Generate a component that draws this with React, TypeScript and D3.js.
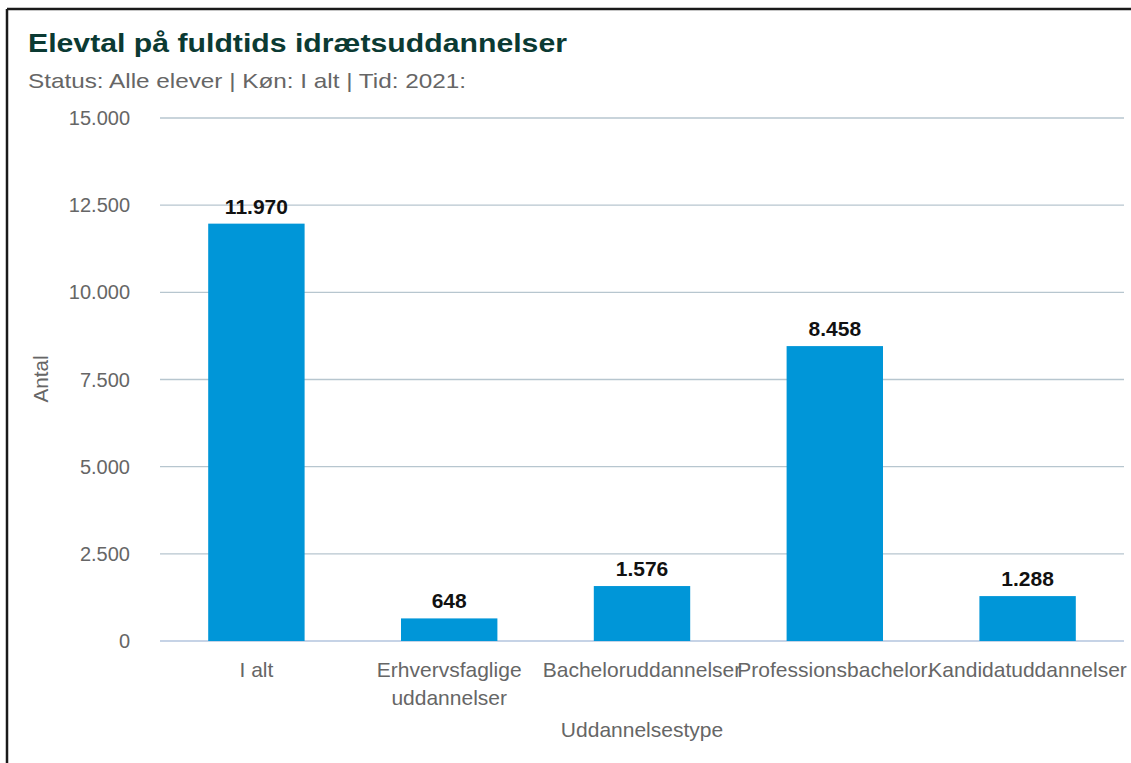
import React from 'react';
import { scaleBand, scaleLinear, formatLocale } from 'd3';

const categories = ['I alt', 'Erhvervsfaglige uddannelser', 'Bacheloruddannelser', 'Professionsbachelor.', 'Kandidatuddannelser'];
const categoryLines = [['I alt'], ['Erhvervsfaglige', 'uddannelser'], ['Bacheloruddannelser'], ['Professionsbachelor.'], ['Kandidatuddannelser']];
const values = [11970, 648, 1576, 8458, 1288];
const yTicks = [0, 2500, 5000, 7500, 10000, 12500, 15000];

const title = 'Elevtal på fuldtids idrætsuddannelser';
const subtitle = 'Status: Alle elever | Køn: I alt | Tid: 2021:';
const yTitle = 'Antal';
const xTitle = 'Uddannelsestype';

const W = 1131;
const H = 763;
const font = '"Liberation Sans", Arial, sans-serif';

const da = formatLocale({ decimal: ',', thousands: '.', grouping: [3], currency: ['', ' kr.'] });
const fmt = da.format(',');

const App = () => {
    const margin = { top: 118, right: 7, bottom: 122, left: 160 };
    const innerWidth = W - margin.left - margin.right;
    const innerHeight = H - margin.top - margin.bottom;

    const xScale = scaleBand()
        .domain(categories)
        .range([0, innerWidth])
        .paddingInner(0.5)
        .paddingOuter(0.25);

    const yScale = scaleLinear()
        .domain([0, 15000])
        .range([innerHeight, 0]);

    return (
        <svg width={W} height={H} style={{ position: 'absolute', left: 0, top: 0, fontFamily: font }}>
            <rect x={0} y={0} width={W} height={H} fill="white" />
            {/* frame */}
            <line x1={7} x2={W} y1={9} y2={9} stroke="#1a1a1a" strokeWidth={2.5} />
            <line x1={7} x2={7} y1={9} y2={H} stroke="#1a1a1a" strokeWidth={2.5} />

            <text x={28} y={52} fontSize={26} fontWeight="bold" fill="#0b3a33" textLength={539} lengthAdjust="spacingAndGlyphs">{title}</text>
            <text x={28} y={88} fontSize={21} fill="#666666" textLength={438} lengthAdjust="spacingAndGlyphs">{subtitle}</text>

            <g transform={`translate(${margin.left}, ${margin.top})`}>
                {yTicks.map(tickVal => (
                    <g key={tickVal} transform={`translate(0, ${yScale(tickVal)})`}>
                        {tickVal > 0 && <line x1={0} x2={innerWidth} stroke="#b7c6cf" strokeWidth={1.3} />}
                        <text x={-30} dy="0.35em" textAnchor="end" fontSize={20} fill="#666666">{fmt(tickVal)}</text>
                    </g>
                ))}
                <line x1={0} x2={innerWidth} y1={innerHeight} y2={innerHeight} stroke="#c6d3e6" strokeWidth={2} />

                {categories.map((c, i) => (
                    <g key={c}>
                        <rect x={xScale(c)} y={yScale(values[i])} width={xScale.bandwidth()} height={innerHeight - yScale(values[i])} fill="#0096d8" />
                        <text x={xScale(c) + xScale.bandwidth() / 2} y={yScale(values[i]) - 10} textAnchor="middle" fontSize={21} fontWeight="bold" fill="#111">{fmt(values[i])}</text>
                        {categoryLines[i].map((ln, j) => (
                            <text key={j} x={xScale(c) + xScale.bandwidth() / 2} y={innerHeight + 36 + j * 28} textAnchor="middle" fontSize={21} fill="#666666">{ln}</text>
                        ))}
                    </g>
                ))}

                <text x={innerWidth / 2} y={innerHeight + 96} textAnchor="middle" fontSize={21} fill="#666666">{xTitle}</text>
            </g>

            <text transform={`translate(48, 379) rotate(-90)`} textAnchor="middle" fontSize={20} fill="#666666" textLength={47} lengthAdjust="spacingAndGlyphs">{yTitle}</text>
        </svg>
    );
};

export default App;
